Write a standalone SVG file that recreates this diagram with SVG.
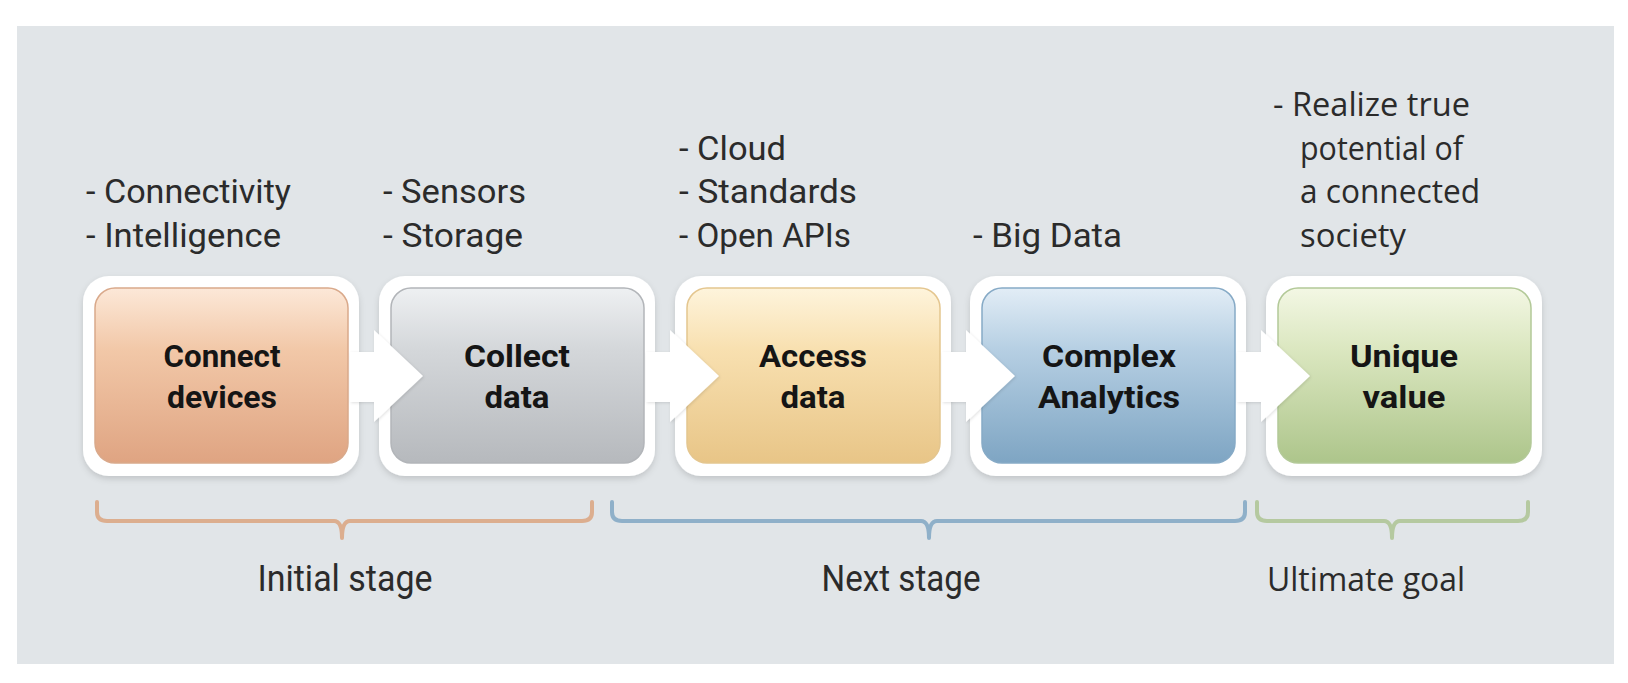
<svg xmlns="http://www.w3.org/2000/svg" width="1628" height="683" viewBox="0 0 1628 683">
<defs>
<style>
.t{font-family:Roboto,"Liberation Sans",sans-serif;font-size:34px;fill:#2b2b2b}
.w{font-family:"Open Sans","Liberation Sans",sans-serif;font-size:32px;fill:#2b2b2b}
.b{font-family:Roboto,"Liberation Sans",sans-serif;font-size:32px;font-weight:bold;fill:#151515;text-anchor:middle}
.s{font-family:Roboto,"Liberation Sans",sans-serif;font-size:36px;fill:#2b2b2b}
.outer{fill:#ffffff;filter:url(#sh)}
.arrow{fill:#ffffff;filter:url(#sh2)}
.br{fill:none;stroke-width:4;stroke-linecap:round;stroke-linejoin:round}
</style>
<filter id="sh" x="-10%" y="-10%" width="120%" height="125%">
<feDropShadow dx="0" dy="3" stdDeviation="3" flood-color="#000" flood-opacity="0.14"/>
</filter>
<filter id="sh2" x="-20%" y="-20%" width="140%" height="140%">
<feDropShadow dx="1" dy="1" stdDeviation="1.5" flood-color="#000" flood-opacity="0.12"/>
</filter>
<linearGradient id="g1" x1="0" y1="0" x2="0" y2="1">
<stop offset="0" stop-color="#fce8d8"/><stop offset="0.35" stop-color="#f2c8a8"/><stop offset="1" stop-color="#dfa482"/>
</linearGradient>
<linearGradient id="g2" x1="0" y1="0" x2="0" y2="1">
<stop offset="0" stop-color="#eef0f2"/><stop offset="0.35" stop-color="#d4d7da"/><stop offset="1" stop-color="#b6b9bd"/>
</linearGradient>
<linearGradient id="g3" x1="0" y1="0" x2="0" y2="1">
<stop offset="0" stop-color="#fef4dc"/><stop offset="0.35" stop-color="#f8e0b0"/><stop offset="1" stop-color="#e8c587"/>
</linearGradient>
<linearGradient id="g4" x1="0" y1="0" x2="0" y2="1">
<stop offset="0" stop-color="#e2edf6"/><stop offset="0.35" stop-color="#b6cfe3"/><stop offset="1" stop-color="#7ea5c3"/>
</linearGradient>
<linearGradient id="g5" x1="0" y1="0" x2="0" y2="1">
<stop offset="0" stop-color="#f3f7e4"/><stop offset="0.35" stop-color="#dbe7c0"/><stop offset="1" stop-color="#adc58b"/>
</linearGradient>
</defs>

<rect x="0" y="0" width="1628" height="683" fill="#ffffff"/>
<rect x="17" y="26" width="1597" height="638" fill="#e1e5e8"/>

<!-- annotations -->
<g id="notes">
<text class="t" x="86" y="203" textLength="205" lengthAdjust="spacingAndGlyphs">- Connectivity</text>
<text class="t" x="86" y="247" textLength="195" lengthAdjust="spacingAndGlyphs">- Intelligence</text>
<text class="t" x="383" y="203" textLength="143" lengthAdjust="spacingAndGlyphs">- Sensors</text>
<text class="t" x="383" y="247" textLength="140" lengthAdjust="spacingAndGlyphs">- Storage</text>
<text class="t" x="679" y="160" textLength="107" lengthAdjust="spacingAndGlyphs">- Cloud</text>
<text class="t" x="679" y="203" textLength="178" lengthAdjust="spacingAndGlyphs">- Standards</text>
<text class="t" x="679" y="247" textLength="172" lengthAdjust="spacingAndGlyphs">- Open APIs</text>
<text class="t" x="973" y="247" textLength="149" lengthAdjust="spacingAndGlyphs">- Big Data</text>
<text class="w" x="1273" y="116" textLength="197" lengthAdjust="spacingAndGlyphs">- Realize true</text>
<text class="w" x="1300" y="160" textLength="163" lengthAdjust="spacingAndGlyphs">potential of</text>
<text class="w" x="1300" y="203" textLength="180" lengthAdjust="spacingAndGlyphs">a connected</text>
<text class="w" x="1300" y="247" textLength="106" lengthAdjust="spacingAndGlyphs">society</text>
</g>

<!-- nodes -->
<g id="node-connect">
<rect class="outer" x="83" y="276" width="276" height="200" rx="26"/>
<rect x="95" y="288" width="253" height="175" rx="20" fill="url(#g1)" stroke="#d9a98b" stroke-width="1.5"/>
<text class="b" x="222" y="367" textLength="117" lengthAdjust="spacingAndGlyphs">Connect</text>
<text class="b" x="222" y="408" textLength="110" lengthAdjust="spacingAndGlyphs">devices</text>
</g>
<g id="node-collect">
<rect class="outer" x="379" y="276" width="276" height="200" rx="26"/>
<rect x="391" y="288" width="253" height="175" rx="20" fill="url(#g2)" stroke="#b2b5b9" stroke-width="1.5"/>
<text class="b" x="517" y="367" textLength="106" lengthAdjust="spacingAndGlyphs">Collect</text>
<text class="b" x="517" y="408" textLength="65" lengthAdjust="spacingAndGlyphs">data</text>
</g>
<g id="node-access">
<rect class="outer" x="675" y="276" width="276" height="200" rx="26"/>
<rect x="687" y="288" width="253" height="175" rx="20" fill="url(#g3)" stroke="#e4c68f" stroke-width="1.5"/>
<text class="b" x="813" y="367" textLength="108" lengthAdjust="spacingAndGlyphs">Access</text>
<text class="b" x="813" y="408" textLength="65" lengthAdjust="spacingAndGlyphs">data</text>
</g>
<g id="node-analytics">
<rect class="outer" x="970" y="276" width="276" height="200" rx="26"/>
<rect x="982" y="288" width="253" height="175" rx="20" fill="url(#g4)" stroke="#86aac6" stroke-width="1.5"/>
<text class="b" x="1109" y="367" textLength="134" lengthAdjust="spacingAndGlyphs">Complex</text>
<text class="b" x="1109" y="408" textLength="142" lengthAdjust="spacingAndGlyphs">Analytics</text>
</g>
<g id="node-value">
<rect class="outer" x="1266" y="276" width="276" height="200" rx="26"/>
<rect x="1278" y="288" width="253" height="175" rx="20" fill="url(#g5)" stroke="#b3c998" stroke-width="1.5"/>
<text class="b" x="1404" y="367" textLength="108" lengthAdjust="spacingAndGlyphs">Unique</text>
<text class="b" x="1404" y="408" textLength="83" lengthAdjust="spacingAndGlyphs">value</text>
</g>

<!-- connectors -->
<g id="connectors">
<path class="arrow" d="M350,352 L374,352 L374,330 L423,376 L374,422 L374,402 L350,402 Z"/>
<path class="arrow" d="M646,352 L670,352 L670,330 L719,376 L670,422 L670,402 L646,402 Z"/>
<path class="arrow" d="M942,352 L966,352 L966,330 L1015,376 L966,422 L966,402 L942,402 Z"/>
<path class="arrow" d="M1237,352 L1261,352 L1261,330 L1310,376 L1261,422 L1261,402 L1237,402 Z"/>
</g>

<!-- stage brackets -->
<g id="stage-initial">
<path class="br" stroke="#dcae8f" d="M97,502 L97,512 Q97,521 107,521 L334,521 Q342,521 342,538 Q342,521 350,521 L582,521 Q592,521 592,512 L592,502"/>
<text class="s" x="345" y="591" text-anchor="middle" textLength="175" lengthAdjust="spacingAndGlyphs">Initial stage</text>
</g>
<g id="stage-next">
<path class="br" stroke="#8fb0c9" d="M612,502 L612,512 Q612,521 622,521 L921,521 Q929,521 929,538 Q929,521 937,521 L1235,521 Q1245,521 1245,512 L1245,502"/>
<text class="s" x="901" y="591" text-anchor="middle" textLength="159" lengthAdjust="spacingAndGlyphs">Next stage</text>
</g>
<g id="stage-ultimate">
<path class="br" stroke="#b5c9a0" d="M1257,502 L1257,512 Q1257,521 1267,521 L1384,521 Q1392,521 1392,538 Q1392,521 1400,521 L1518,521 Q1528,521 1528,512 L1528,502"/>
<text class="w" x="1366" y="591" text-anchor="middle" font-size="35" textLength="198" lengthAdjust="spacingAndGlyphs">Ultimate goal</text>
</g>
</svg>
